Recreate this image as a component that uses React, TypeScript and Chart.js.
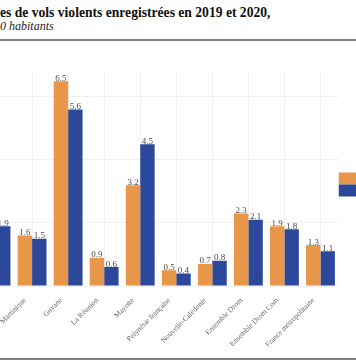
import React, { useEffect, useRef } from "react";
import { Chart, registerables } from "chart.js";

Chart.register(...registerables);

const categories = [
  "Guadeloupe",
  "Martinique",
  "Guyane",
  "La Réunion",
  "Mayotte",
  "Polynésie française",
  "Nouvelle-Calédonie",
  "Ensemble Drom",
  "Ensemble Drom Com",
  "France métropolitaine",
];
const values2019 = [1.7, 1.6, 6.5, 0.9, 3.2, 0.5, 0.7, 2.3, 1.9, 1.3];
const values2020 = [1.9, 1.5, 5.6, 0.6, 4.5, 0.4, 0.8, 2.1, 1.8, 1.1];
const seriesLabels = ["2019", "2020"];
const yTicks = [0, 2, 4, 6];
const titleLine1 = "es de vols violents enregistrées en 2019 et 2020,";
const titleLine2 = "0 habitants";

const ORANGE = "#E8964A";
const BLUE = "#2C489B";
const SERIF = "'Liberation Serif', 'DejaVu Serif', serif";

const valueLabels = {
  id: "valueLabels",
  afterDatasetsDraw(chart: any) {
    const ctx = chart.ctx;
    ctx.save();
    ctx.font = `9px ${SERIF}`;
    ctx.fillStyle = "#4a4a4a";
    ctx.textAlign = "center";
    ctx.textBaseline = "alphabetic";
    chart.data.datasets.forEach((ds: any, i: number) => {
      const meta = chart.getDatasetMeta(i);
      meta.data.forEach((el: any, j: number) => {
        const v = ds.data[j];
        ctx.fillText(Number(v).toFixed(1), el.x, el.y - 0.5);
      });
    });
    ctx.restore();
  },
};

export default function App() {
  const ref = useRef<HTMLCanvasElement | null>(null);

  useEffect(() => {
    if (!ref.current) return;
    const chart = new Chart(ref.current, {
      type: "bar",
      data: {
        labels: categories,
        datasets: [
          {
            label: seriesLabels[0],
            data: values2019,
            backgroundColor: ORANGE,
            categoryPercentage: 0.8,
            barPercentage: 1.0,
          },
          {
            label: seriesLabels[1],
            data: values2020,
            backgroundColor: BLUE,
            categoryPercentage: 0.8,
            barPercentage: 1.0,
          },
        ],
      },
      options: {
        responsive: false,
        animation: false,
        devicePixelRatio: 1,
        layout: { padding: 0 },
        plugins: {
          title: { display: false },
          tooltip: { enabled: false },
          legend: {
            display: true,
            position: "right",
            align: "center",
            fullSize: false,
            title: {
              display: true,
              text: " ",
              padding: 0,
              font: { size: 10, family: SERIF },
            },
            labels: {
              boxWidth: 20,
              boxHeight: 12,
              padding: 0,
              font: { size: 9, family: SERIF },
              color: "#333",
            },
          },
        },
        scales: {
          x: {
            grid: {
              offset: false,
              color: "#ececec",
              lineWidth: 0.8,
              drawTicks: false,
            },
            border: { display: false },
            ticks: {
              autoSkip: false,
              minRotation: 45,
              maxRotation: 45,
              padding: 10,
              labelOffset: -7,
              color: "#666",
              font: { size: 7.5, family: SERIF },
            },
            afterFit: (scale: any) => {
              scale.height = 60;
              scale.paddingLeft = 0;
              scale.paddingRight = 0;
            },
          },
          y: {
            min: 0,
            max: 6.825,
            afterBuildTicks: (scale: any) => {
              scale.ticks = yTicks.map((v) => ({ value: v }));
            },
            afterFit: (scale: any) => {
              scale.width = 0;
            },
            grid: { color: "#ececec", lineWidth: 0.8, drawTicks: false },
            border: { display: false },
            ticks: { display: false },
          },
        },
      },
      plugins: [valueLabels],
    });
    return () => chart.destroy();
  }, []);

  return (
    <div
      style={{
        position: "fixed",
        left: 0,
        top: 0,
        width: 356,
        height: 364,
        overflow: "hidden",
        background: "#fff",
      }}
    >
      <div
        style={{
          position: "absolute",
          left: 0,
          top: 5,
          whiteSpace: "nowrap",
          fontFamily: SERIF,
          fontWeight: "bold",
          fontSize: 13.6,
          lineHeight: "16px",
          color: "#111",
        }}
      >
        {titleLine1}
      </div>
      <div
        style={{
          position: "absolute",
          left: 0,
          top: 19,
          whiteSpace: "nowrap",
          fontFamily: SERIF,
          fontStyle: "italic",
          fontSize: 12,
          lineHeight: "15px",
          color: "#222",
        }}
      >
        {titleLine2}
      </div>
      <div
        style={{
          position: "absolute",
          left: 0,
          top: 39,
          width: 356,
          height: 2,
          background: "#808080",
        }}
      />
      <canvas
        ref={ref}
        width={413}
        height={275}
        style={{ position: "absolute", left: -22, top: 71, width: 413, height: 275 }}
      />
      <div
        style={{
          position: "absolute",
          left: 0,
          top: 358,
          width: 356,
          height: 2,
          background: "#808080",
        }}
      />
    </div>
  );
}
